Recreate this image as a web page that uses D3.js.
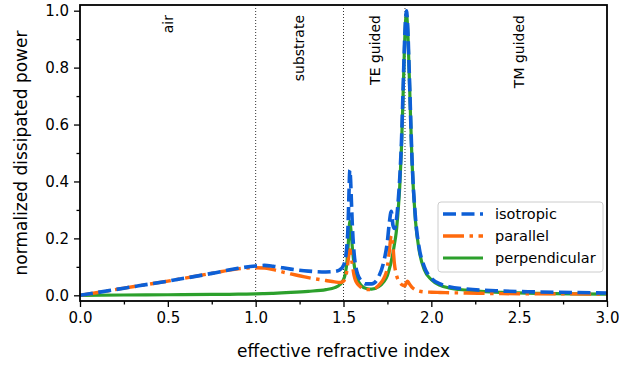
<!DOCTYPE html>
<html>
<head>
<meta charset="utf-8">
<script src="https://cdn.jsdelivr.net/npm/d3@7"></script>
<style>
    body { margin: 0; background: #fff; }
    text { font-family: "DejaVu Sans", sans-serif; fill: #000; }
</style>
</head>
<body>
<svg id="chart"></svg>
<script>
// effective refractive index grid (shared by all three series)
const nEff = [0, 0.25, 0.5, 0.75, 0.9, 1.0, 1.05, 1.1, 1.2, 1.3, 1.4, 1.45, 1.48, 1.5, 1.51, 1.52, 1.525, 1.53,
    1.536, 1.54, 1.545, 1.55, 1.56, 1.57, 1.58, 1.6, 1.63, 1.66, 1.7, 1.73, 1.75, 1.76, 1.772, 1.782, 1.79,
    1.8, 1.81, 1.82, 1.83, 1.84, 1.85, 1.858, 1.865, 1.875, 1.89, 1.91, 1.93, 1.96, 2.0, 2.05, 2.1, 2.2,
    2.4, 2.6, 2.8, 3.0];

const isotropic = [0, 0.025, 0.05, 0.077, 0.095, 0.103, 0.105, 0.102, 0.092, 0.085, 0.082, 0.084, 0.09, 0.105,
    0.125, 0.18, 0.23, 0.33, 0.44, 0.41, 0.33, 0.25, 0.15, 0.1, 0.075, 0.052, 0.04, 0.04, 0.065, 0.12, 0.19,
    0.25, 0.295, 0.245, 0.235, 0.26, 0.32, 0.41, 0.54, 0.74, 0.93, 1.0, 0.95, 0.77, 0.48, 0.27, 0.17, 0.1,
    0.06, 0.04, 0.03, 0.022, 0.015, 0.012, 0.01, 0.008];

const parallel = [0, 0.025, 0.05, 0.077, 0.093, 0.097, 0.096, 0.09, 0.075, 0.062, 0.052, 0.047, 0.045, 0.05,
    0.06, 0.09, 0.115, 0.14, 0.16, 0.155, 0.13, 0.11, 0.07, 0.05, 0.04, 0.028, 0.02, 0.02, 0.035, 0.06, 0.1,
    0.15, 0.21, 0.17, 0.11, 0.075, 0.055, 0.045, 0.038, 0.035, 0.033, 0.045, 0.05, 0.04, 0.028, 0.019, 0.015,
    0.012, 0.011, 0.01, 0.009, 0.008, 0.006, 0.005, 0.005, 0.004];

const perpendicular = [0, 0.001, 0.002, 0.003, 0.004, 0.005, 0.006, 0.007, 0.01, 0.014, 0.02, 0.027, 0.038,
    0.055, 0.075, 0.12, 0.16, 0.21, 0.26, 0.245, 0.21, 0.17, 0.11, 0.075, 0.055, 0.035, 0.024, 0.022, 0.03,
    0.048, 0.07, 0.09, 0.12, 0.15, 0.18, 0.22, 0.29, 0.38, 0.52, 0.72, 0.92, 0.99, 0.94, 0.76, 0.47, 0.26,
    0.16, 0.09, 0.055, 0.035, 0.026, 0.018, 0.01, 0.007, 0.005, 0.004];

// region boundaries and labels
const boundaries = [1.0, 1.5, 1.85];
const regionLabels = ["air", "substrate", "TE guided", "TM guided"];
const regionCenters = [0.5, 1.25, 1.68, 2.5];

const xTicks = [0, 0.5, 1.0, 1.5, 2.0, 2.5, 3.0];
const yTicks = [0, 0.2, 0.4, 0.6, 0.8, 1.0];

const width = 619;
const height = 365;
const margin = { top: 5, right: 12, bottom: 64, left: 80 };

const svg = d3.select("#chart")
    .attr("width", width)
    .attr("height", height);

const xScale = d3.scaleLinear()
    .domain([0, 3])
    .range([margin.left, width - margin.right]);

const yScale = d3.scaleLinear()
    .domain([-0.02, 1.02])
    .range([height - margin.bottom, margin.top]);

// dotted region boundaries
svg.selectAll(".bound")
    .data(boundaries)
    .enter()
    .append("line")
    .attr("class", "bound")
    .attr("x1", d => xScale(d))
    .attr("x2", d => xScale(d))
    .attr("y1", margin.top)
    .attr("y2", height - margin.bottom)
    .style("stroke", "#333")
    .style("stroke-width", 1)
    .style("stroke-dasharray", "1,2");

// region labels, rotated
svg.selectAll(".region")
    .data(regionLabels)
    .enter()
    .append("text")
    .attr("class", "region")
    .attr("transform", (d, i) => `translate(${xScale(regionCenters[i])}, 15) rotate(-90)`)
    .attr("dy", "0.35em")
    .style("text-anchor", "end")
    .style("font-size", "14px")
    .text(d => d);

const series = [
    { name: "isotropic", values: isotropic, color: "#0d5fd6", dash: "13,5.5", width: 3.6 },
    { name: "parallel", values: parallel, color: "#ff6a0d", dash: "21,5.5,3.5,5.5", width: 3.4 },
    { name: "perpendicular", values: perpendicular, color: "#2ca02c", dash: null, width: 3.2 }
];

const line = d3.line()
    .x((d, i) => xScale(nEff[i]))
    .y(d => yScale(d))
    .curve(d3.curveMonotoneX);

// draw green first, then orange, blue on top
[series[2], series[1], series[0]].forEach(s => {
    svg.append("path")
        .datum(s.values)
        .attr("d", line)
        .style("fill", "none")
        .style("stroke", s.color)
        .style("stroke-width", s.width)
        .style("stroke-dasharray", s.dash);
});

// x-axis
const xAxis = svg.append("g")
    .attr("class", "x-axis")
    .attr("transform", `translate(0, ${height - margin.bottom})`)
    .call(d3.axisBottom(xScale).tickValues(xTicks).tickFormat(d3.format(".1f")).tickSize(6).tickPadding(5));

svg.append("g")
    .attr("transform", `translate(0, ${height - margin.bottom})`)
    .call(d3.axisBottom(xScale).tickValues(d3.range(0.25, 3, 0.5)).tickFormat("").tickSize(3.5))
    .call(g => g.select(".domain").remove());

// y-axis
const yAxis = svg.append("g")
    .attr("class", "y-axis")
    .attr("transform", `translate(${margin.left}, 0)`)
    .call(d3.axisLeft(yScale).tickValues(yTicks).tickFormat(d3.format(".1f")).tickSize(6).tickPadding(5));

svg.append("g")
    .attr("transform", `translate(${margin.left}, 0)`)
    .call(d3.axisLeft(yScale).tickValues([0.1, 0.3, 0.5, 0.7, 0.9]).tickFormat("").tickSize(3.5))
    .call(g => g.select(".domain").remove());

svg.selectAll(".x-axis text, .y-axis text")
    .style("font-size", "15px")
    .style("font-family", "DejaVu Sans, sans-serif");
svg.selectAll(".tick line").style("stroke-width", 1.3);
svg.selectAll(".domain").remove();

// frame
svg.append("rect")
    .attr("x", margin.left)
    .attr("y", margin.top)
    .attr("width", width - margin.right - margin.left)
    .attr("height", height - margin.bottom - margin.top)
    .style("fill", "none")
    .style("stroke", "#000")
    .style("stroke-width", 1.8);

// axis labels
svg.append("text")
    .attr("x", (margin.left + width - margin.right) / 2)
    .attr("y", 357)
    .style("text-anchor", "middle")
    .style("font-size", "17px")
    .text("effective refractive index");

svg.append("text")
    .attr("transform", `translate(27, ${(margin.top + height - margin.bottom) / 2}) rotate(-90)`)
    .style("text-anchor", "middle")
    .style("font-size", "17px")
    .text("normalized dissipated power");

// legend
const legend = svg.append("g").attr("transform", "translate(438, 202)");
legend.append("rect")
    .attr("width", 165)
    .attr("height", 70)
    .attr("rx", 3)
    .style("fill", "#fff")
    .style("fill-opacity", 0.8)
    .style("stroke", "#ccc")
    .style("stroke-width", 1);

series.forEach((s, i) => {
    const y = 12 + i * 22;
    legend.append("line")
        .attr("x1", 5)
        .attr("x2", 45)
        .attr("y1", y)
        .attr("y2", y)
        .style("stroke", s.color)
        .style("stroke-width", s.width)
        .style("stroke-dasharray", s.dash);
    legend.append("text")
        .attr("x", 57)
        .attr("y", y)
        .attr("dy", "0.35em")
        .style("font-size", "14.5px")
        .text(s.name);
});
</script>
</body>
</html>
